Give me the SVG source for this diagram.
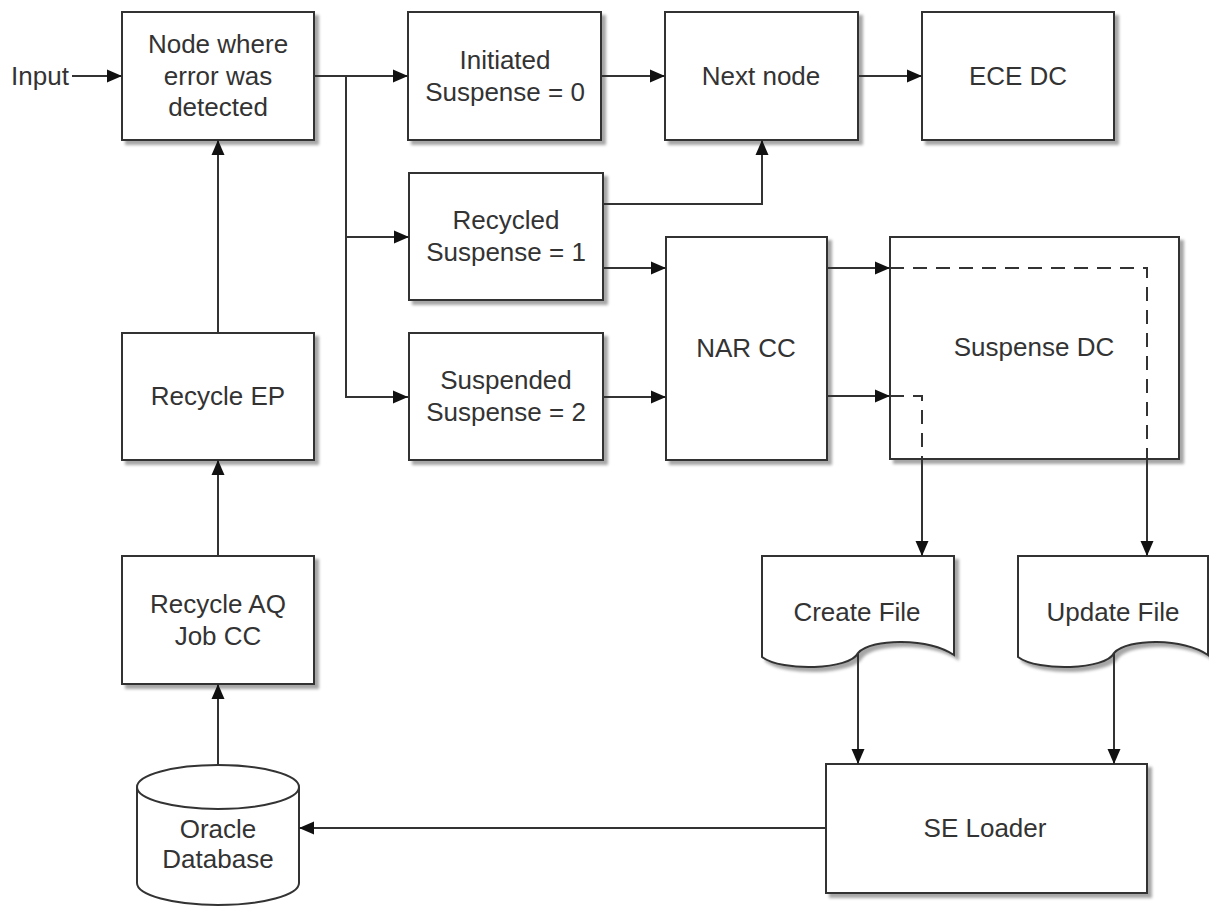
<svg xmlns="http://www.w3.org/2000/svg" width="1209" height="907" viewBox="0 0 1209 907">
<defs>
<filter id="sh" x="-10%" y="-10%" width="130%" height="130%">
<feDropShadow dx="4" dy="4" stdDeviation="1.5" flood-color="#000" flood-opacity="0.35"/>
</filter>
<marker id="ar" markerUnits="userSpaceOnUse" markerWidth="16" markerHeight="14" refX="15" refY="7" orient="auto">
<path d="M0,0.5 L15,7 L0,13.5 z" fill="#111"/>
</marker>
</defs>
<style>
.b{fill:#fff;stroke:#333;stroke-width:2;filter:url(#sh)}
.c{fill:#fff;stroke:#333;stroke-width:2}
.t{font-family:"Liberation Sans",Arial,sans-serif;font-size:26px;fill:#333;text-anchor:middle}
.l{fill:none;stroke:#333;stroke-width:2;marker-end:url(#ar)}
.p{fill:none;stroke:#333;stroke-width:2}
.d{fill:none;stroke:#333;stroke-width:2;stroke-dasharray:14 9}
</style>
<g id="input"><text class="t" x="40" y="85">Input</text></g>
<g id="node-error"><rect class="b" x="122" y="12" width="192" height="128"/><text class="t" x="218" y="53">Node where</text><text class="t" x="218" y="85">error was</text><text class="t" x="218" y="116">detected</text></g>
<g id="initiated"><rect class="b" x="408" y="12" width="193" height="128"/><text class="t" x="505" y="69">Initiated</text><text class="t" x="505" y="101">Suspense = 0</text></g>
<g id="next-node"><rect class="b" x="665" y="12" width="193" height="128"/><text class="t" x="761" y="85">Next node</text></g>
<g id="ece-dc"><rect class="b" x="922" y="12" width="192" height="128"/><text class="t" x="1018" y="85">ECE DC</text></g>
<g id="recycled"><rect class="b" x="409" y="173" width="194" height="127"/><text class="t" x="506" y="229">Recycled</text><text class="t" x="506" y="261">Suspense = 1</text></g>
<g id="suspended"><rect class="b" x="409" y="333" width="194" height="127"/><text class="t" x="506" y="389">Suspended</text><text class="t" x="506" y="421">Suspense = 2</text></g>
<g id="nar-cc"><rect class="b" x="666" y="237" width="161" height="223"/><text class="t" x="746" y="357">NAR CC</text></g>
<g id="suspense-dc"><rect class="b" x="890" y="237" width="289" height="222"/><text class="t" x="1034" y="356">Suspense DC</text></g>
<g id="recycle-ep"><rect class="b" x="122" y="333" width="192" height="127"/><text class="t" x="218" y="405">Recycle EP</text></g>
<g id="recycle-aq"><rect class="b" x="122" y="556" width="192" height="128"/><text class="t" x="218" y="613">Recycle AQ</text><text class="t" x="218" y="645">Job CC</text></g>
<g id="create-file"><path class="b" d="M762,556 H954 V655 C928,638 872,638 858,653 C850,670 782,672 762,657 Z"/><text class="t" x="857" y="621">Create File</text></g>
<g id="update-file"><path class="b" d="M1018,556 H1208 V655 C1184,638 1128,638 1114,653 C1106,670 1038,672 1018,657 Z"/><text class="t" x="1113" y="621">Update File</text></g>
<g id="se-loader"><rect class="b" x="826" y="764" width="321" height="129"/><text class="t" x="985" y="837">SE Loader</text></g>
<g id="oracle-db"><path class="c" d="M137,787 V883 A81,22 0 0 0 299,883 V787"/><ellipse class="c" cx="218" cy="787" rx="81" ry="22"/><text class="t" x="218" y="838">Oracle</text><text class="t" x="218" y="868">Database</text></g>
<g id="connectors">
<path class="l" d="M72,76 H122"/>
<path class="l" d="M314,76 H408"/>
<path class="l" d="M346,76 V397 H408"/>
<path class="l" d="M346,237 H409"/>
<path class="l" d="M601,76 H665"/>
<path class="l" d="M858,76 H922"/>
<path class="l" d="M603,204 H762 V140"/>
<path class="l" d="M603,268 H666"/>
<path class="l" d="M603,397 H666"/>
<path class="l" d="M827,268 H890"/>
<path class="l" d="M827,396 H890"/>
<path class="d" d="M890,268 H1147 V459"/>
<path class="l" d="M1147,459 V556"/>
<path class="d" d="M890,396 H922 V459"/>
<path class="l" d="M922,459 V556"/>
<path class="l" d="M858,653 V764"/>
<path class="l" d="M1114,653 V764"/>
<path class="l" d="M826,828 H299"/>
<path class="l" d="M218,765 V684"/>
<path class="l" d="M218,556 V460"/>
<path class="l" d="M218,333 V140"/>
</g>
</svg>
